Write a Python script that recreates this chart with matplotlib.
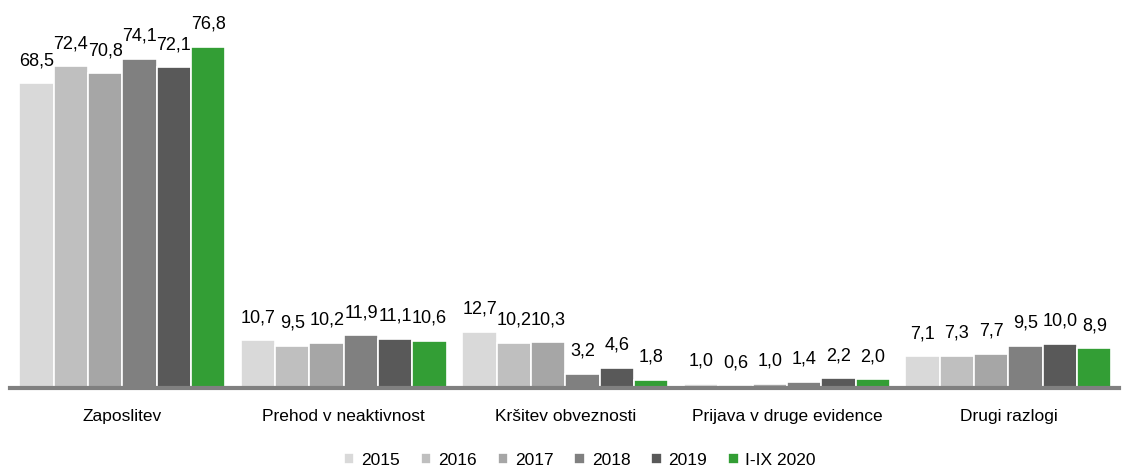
import numpy as np
import matplotlib.pyplot as plt

plt.rcParams['font.family'] = ['Liberation Sans', 'DejaVu Sans']

categories = ['Zaposlitev', 'Prehod v neaktivnost', 'Kršitev obveznosti',
              'Prijava v druge evidence', 'Drugi razlogi']
years = ['2015', '2016', '2017', '2018', '2019', 'I-IX 2020']
v2015 = [68.5, 10.7, 12.7, 1.0, 7.1]
v2016 = [72.4, 9.5, 10.2, 0.6, 7.3]
v2017 = [70.8, 10.2, 10.3, 1.0, 7.7]
v2018 = [74.1, 11.9, 3.2, 1.4, 9.5]
v2019 = [72.1, 11.1, 4.6, 2.2, 10.0]
v2020 = [76.8, 10.6, 1.8, 2.0, 8.9]
series = [v2015, v2016, v2017, v2018, v2019, v2020]
colors = ['#d9d9d9', '#bfbfbf', '#a6a6a6', '#808080', '#595959', '#339e35']

fig = plt.figure(figsize=(11.26, 4.68), dpi=100)
ax = fig.add_axes([0.009, 0.171, 0.985, 0.76])

x = np.arange(len(categories))
w = 0.155
for i, (vals, c, lab) in enumerate(zip(series, colors, years)):
    pos = x + (i - 2.5) * w
    ax.bar(pos, vals, w, color=c, edgecolor='white', linewidth=1.2, label=lab)
    for p, v in zip(pos, vals):
        ax.annotate(('%.1f' % v).replace('.', ','), (p, v), xytext=(0, 14),
                    textcoords='offset pixels', ha='center', va='bottom', fontsize=13)

ax.set_xlim(-0.506, 4.50)
ax.set_ylim(0, 80)
ax.set_yticks([])
ax.set_xticks(x)
ax.set_xticklabels(categories, fontsize=12.5)
ax.tick_params(axis='x', length=0, pad=15)
for s in ['top', 'right', 'left']:
    ax.spines[s].set_visible(False)
ax.spines['bottom'].set_color('#808080')
ax.spines['bottom'].set_linewidth(3)

fig.legend(*ax.get_legend_handles_labels(), loc='center', bbox_to_anchor=(0.515, 0.016),
           ncol=6, frameon=False, fontsize=12.5, handlelength=0.6, handleheight=0.6,
           handletextpad=0.4, columnspacing=1.2, borderpad=0)

fig.savefig('out.png')
